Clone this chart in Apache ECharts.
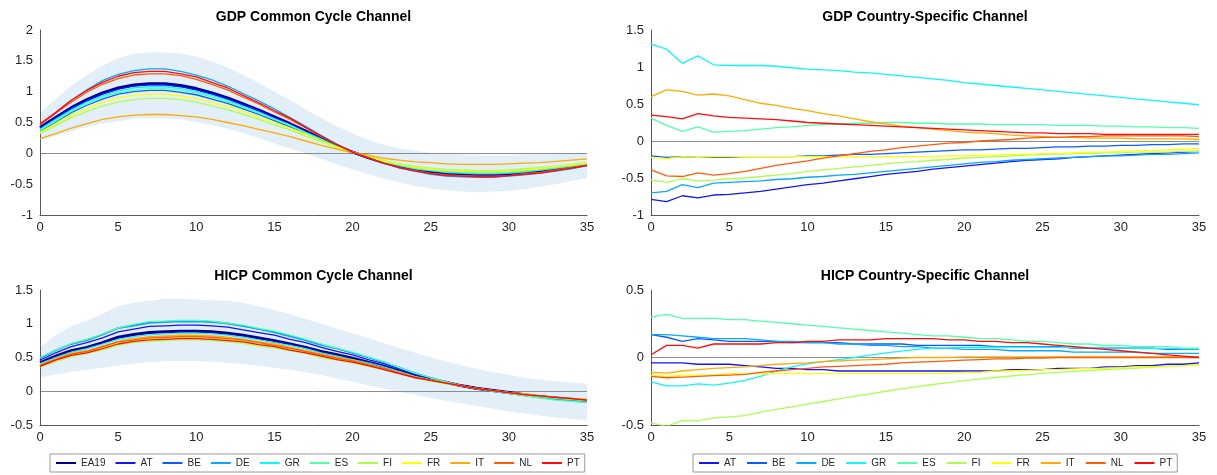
<!DOCTYPE html>
<html><head><meta charset="utf-8">
<script src="https://cdn.jsdelivr.net/npm/echarts@6/dist/echarts.min.js"></script>
<style>html,body{margin:0;padding:0;background:#fff}#c{width:1217px;height:475px}</style>
</head><body><div id="c"></div>
<script>
// ---------- DATA ----------
const horizon = [0,1,2,3,4,5,6,7,8,9,10,11,12,13,14,15,16,17,18,19,20,21,22,23,24,25,26,27,28,29,30,31,32,33,34,35];
const countries = ['AT','BE','DE','GR','ES','FI','FR','IT','NL','PT'];
const legendCommon = ['EA19','AT','BE','DE','GR','ES','FI','FR','IT','NL','PT'];
const titles = ['GDP Common Cycle Channel','GDP Country-Specific Channel','HICP Common Cycle Channel','HICP Country-Specific Channel'];

// GDP common cycle channel
const gdpCC_bandLow  = [.21,.28,.36,.43,.48,.52,.56,.57,.57,.55,.51,.46,.40,.33,.25,.16,.08,0,-.09,-.18,-.26,-.34,-.41,-.47,-.53,-.57,-.60,-.62,-.63,-.62,-.61,-.58,-.54,-.50,-.45,-.40];
const gdpCC_bandHigh = [.65,.88,1.09,1.27,1.42,1.54,1.61,1.64,1.64,1.62,1.57,1.49,1.39,1.27,1.14,1.00,.86,.71,.57,.44,.32,.22,.14,.08,.04,.01,-.01,-.02,-.03,-.03,-.03,-.02,-.02,-.01,-.01,0];
const gdpCC_EA19 = [.42,.58,.74,.87,.98,1.06,1.11,1.13,1.13,1.10,1.05,.98,.90,.80,.70,.59,.48,.36,.24,.12,.02,-.07,-.15,-.21,-.26,-.30,-.33,-.34,-.35,-.35,-.34,-.32,-.29,-.26,-.22,-.18];
const gdpCC_AT = [.41,.57,.73,.85,.96,1.04,1.09,1.11,1.11,1.08,1.03,.96,.88,.79,.69,.58,.47,.35,.24,.12,.02,-.06,-.14,-.21,-.26,-.29,-.32,-.33,-.34,-.34,-.33,-.31,-.28,-.25,-.21,-.18];
const gdpCC_BE = [.36,.51,.66,.78,.88,.96,1.00,1.02,1.02,.99,.95,.88,.81,.72,.63,.53,.43,.33,.22,.11,.02,-.06,-.13,-.20,-.24,-.28,-.30,-.31,-.32,-.32,-.31,-.29,-.27,-.24,-.20,-.17];
const gdpCC_DE = [.46,.66,.86,1.03,1.18,1.28,1.34,1.37,1.37,1.33,1.27,1.19,1.09,.97,.85,.72,.58,.44,.29,.15,.02,-.07,-.16,-.24,-.29,-.34,-.37,-.38,-.39,-.39,-.37,-.35,-.32,-.29,-.25,-.20];
const gdpCC_GR = [.39,.55,.70,.83,.93,1.01,1.06,1.08,1.08,1.05,1.00,.94,.86,.76,.67,.56,.46,.34,.23,.11,.02,-.06,-.14,-.20,-.25,-.28,-.31,-.32,-.33,-.33,-.32,-.30,-.27,-.24,-.21,-.17];
const gdpCC_ES = [.37,.52,.68,.80,.91,.98,1.03,1.05,1.05,1.02,.98,.91,.84,.74,.65,.55,.45,.33,.22,.11,.02,-.06,-.13,-.19,-.24,-.27,-.30,-.31,-.32,-.32,-.31,-.29,-.26,-.23,-.20,-.17];
const gdpCC_FI = [.32,.45,.58,.68,.77,.83,.87,.89,.89,.87,.83,.77,.71,.63,.55,.46,.38,.28,.19,.09,.02,-.05,-.12,-.17,-.21,-.24,-.26,-.27,-.28,-.28,-.27,-.25,-.23,-.21,-.18,-.15];
const gdpCC_FR = [.34,.48,.62,.73,.83,.90,.94,.96,.96,.93,.89,.83,.76,.68,.59,.50,.41,.31,.20,.10,.02,-.06,-.13,-.18,-.23,-.26,-.28,-.29,-.30,-.30,-.29,-.27,-.25,-.22,-.19,-.16];
const gdpCC_IT = [.24,.32,.41,.48,.55,.59,.62,.63,.63,.61,.59,.55,.50,.45,.39,.33,.27,.20,.13,.07,.01,-.03,-.08,-.11,-.14,-.15,-.17,-.18,-.18,-.18,-.17,-.16,-.15,-.13,-.11,-.09];
const gdpCC_NL = [.46,.65,.83,.99,1.12,1.21,1.27,1.29,1.29,1.26,1.20,1.12,1.03,.91,.80,.67,.55,.41,.27,.14,.02,-.07,-.16,-.23,-.28,-.32,-.35,-.36,-.37,-.37,-.36,-.33,-.31,-.27,-.23,-.19];
const gdpCC_PT = [.48,.66,.86,1.02,1.15,1.25,1.31,1.33,1.33,1.29,1.24,1.15,1.06,.94,.82,.69,.57,.42,.28,.14,.02,-.07,-.16,-.23,-.29,-.33,-.36,-.37,-.38,-.38,-.36,-.34,-.32,-.28,-.24,-.20];

// GDP country-specific channel
const gdpCS_AT = [-.79,-.82,-.74,-.77,-.73,-.72,-.70,-.68,-.65,-.62,-.59,-.57,-.54,-.51,-.48,-.45,-.43,-.41,-.38,-.36,-.34,-.32,-.30,-.28,-.26,-.25,-.24,-.22,-.21,-.20,-.19,-.18,-.17,-.16,-.15,-.14];
const gdpCS_BE = [-.20,-.22,-.21,-.22,-.22,-.22,-.21,-.21,-.21,-.21,-.20,-.20,-.19,-.18,-.18,-.17,-.16,-.15,-.14,-.13,-.12,-.12,-.11,-.10,-.10,-.09,-.08,-.08,-.07,-.07,-.06,-.06,-.05,-.05,-.04,-.04];
const gdpCS_DE = [-.70,-.68,-.59,-.63,-.57,-.56,-.55,-.54,-.52,-.51,-.49,-.48,-.46,-.45,-.43,-.41,-.39,-.37,-.35,-.33,-.31,-.29,-.28,-.26,-.25,-.24,-.23,-.22,-.21,-.20,-.20,-.19,-.18,-.18,-.17,-.16];
const gdpCS_GR = [1.31,1.24,1.05,1.15,1.03,1.02,1.02,1.02,1.01,.99,.97,.96,.95,.93,.92,.90,.88,.86,.84,.82,.79,.77,.75,.73,.71,.69,.67,.65,.63,.61,.59,.57,.55,.53,.51,.49];
const gdpCS_ES = [.31,.21,.13,.19,.12,.13,.14,.16,.18,.19,.21,.22,.23,.24,.24,.25,.25,.24,.24,.23,.23,.23,.22,.22,.22,.22,.21,.21,.21,.20,.20,.19,.19,.18,.18,.17];
const gdpCS_FI = [-.53,-.56,-.51,-.54,-.53,-.51,-.50,-.48,-.46,-.44,-.41,-.39,-.37,-.35,-.33,-.31,-.29,-.28,-.26,-.25,-.23,-.22,-.21,-.20,-.19,-.18,-.18,-.17,-.17,-.16,-.16,-.15,-.15,-.15,-.14,-.14];
const gdpCS_FR = [-.22,-.24,-.21,-.22,-.21,-.21,-.21,-.21,-.21,-.21,-.21,-.21,-.21,-.21,-.21,-.21,-.21,-.21,-.21,-.20,-.20,-.19,-.19,-.18,-.18,-.17,-.17,-.16,-.15,-.15,-.14,-.13,-.13,-.12,-.11,-.10];
const gdpCS_IT = [.60,.69,.67,.62,.635,.61,.56,.51,.48,.44,.41,.37,.34,.30,.26,.23,.20,.18,.16,.14,.12,.11,.10,.08,.07,.06,.05,.05,.04,.04,.04,.03,.03,.03,.03,.02];
const gdpCS_NL = [-.39,-.47,-.48,-.43,-.46,-.44,-.41,-.37,-.33,-.30,-.27,-.23,-.20,-.17,-.14,-.12,-.09,-.07,-.05,-.03,-.02,0,.01,.02,.04,.05,.05,.06,.06,.07,.07,.07,.07,.07,.07,.06];
const gdpCS_PT = [.35,.33,.30,.37,.34,.32,.31,.30,.29,.27,.25,.24,.23,.22,.21,.20,.19,.18,.17,.16,.15,.14,.13,.12,.11,.11,.10,.10,.10,.09,.09,.09,.09,.09,.09,.09];

// HICP common cycle channel
const hicpCC_bandLow  = [.20,.25,.29,.32,.35,.38,.41,.43,.45,.45,.45,.44,.42,.40,.38,.35,.32,.28,.24,.19,.14,.09,.04,-.01,-.05,-.10,-.14,-.18,-.22,-.26,-.30,-.33,-.36,-.39,-.41,-.43];
const hicpCC_bandHigh = [.65,.83,.96,1.05,1.15,1.26,1.31,1.34,1.37,1.37,1.36,1.35,1.34,1.31,1.26,1.20,1.14,1.07,1.00,.93,.86,.79,.71,.64,.57,.50,.44,.38,.33,.28,.24,.20,.17,.15,.13,.11];
const hicpCC_EA19 = [.42,.52,.60,.65,.72,.80,.84,.87,.88,.89,.89,.88,.86,.83,.79,.75,.70,.65,.59,.54,.49,.43,.37,.30,.23,.18,.13,.08,.04,.01,-.02,-.05,-.08,-.10,-.12,-.14];
const hicpCC_AT = [.46,.57,.66,.72,.79,.88,.92,.96,.97,.98,.98,.97,.95,.91,.87,.83,.77,.72,.65,.59,.54,.47,.41,.33,.25,.19,.13,.08,.04,.01,-.02,-.05,-.08,-.11,-.13,-.15];
const hicpCC_BE = [.49,.61,.70,.76,.84,.94,.98,1.02,1.03,1.04,1.04,1.03,1.01,.97,.92,.88,.82,.76,.69,.63,.57,.50,.43,.35,.27,.20,.14,.08,.04,0,-.03,-.06,-.09,-.12,-.14,-.16];
const hicpCC_DE = [.49,.60,.70,.75,.84,.93,.97,1.01,1.02,1.03,1.03,1.02,1.00,.96,.92,.87,.81,.75,.68,.63,.57,.50,.43,.35,.27,.20,.14,.08,.04,0,-.03,-.06,-.09,-.12,-.14,-.16];
const hicpCC_GR = [.41,.50,.58,.63,.70,.77,.81,.84,.85,.86,.86,.85,.83,.80,.76,.72,.68,.63,.57,.52,.47,.42,.36,.29,.22,.17,.12,.08,.04,.01,-.02,-.05,-.08,-.10,-.12,-.14];
const hicpCC_ES = [.50,.61,.71,.77,.85,.94,.99,1.03,1.04,1.05,1.05,1.04,1.01,.98,.93,.89,.83,.77,.70,.64,.58,.51,.44,.35,.27,.20,.14,.08,.04,0,-.03,-.07,-.10,-.13,-.15,-.17];
const hicpCC_FI = [.36,.44,.51,.56,.61,.68,.72,.74,.75,.76,.76,.75,.73,.71,.67,.64,.60,.56,.50,.46,.42,.37,.32,.26,.20,.15,.11,.08,.04,.01,-.02,-.05,-.07,-.10,-.12,-.14];
const hicpCC_FR = [.38,.47,.54,.59,.65,.72,.76,.78,.79,.80,.80,.79,.77,.75,.71,.68,.63,.59,.53,.49,.44,.39,.33,.27,.21,.16,.12,.08,.04,.01,-.02,-.04,-.07,-.09,-.11,-.12];
const hicpCC_IT = [.39,.48,.56,.60,.67,.74,.78,.81,.82,.83,.83,.82,.80,.77,.73,.70,.65,.60,.55,.50,.46,.40,.34,.28,.21,.17,.12,.08,.04,.01,-.02,-.05,-.07,-.09,-.11,-.12];
const hicpCC_NL = [.38,.47,.55,.59,.66,.73,.76,.79,.80,.81,.81,.80,.78,.76,.72,.68,.64,.59,.54,.49,.45,.39,.34,.27,.21,.16,.12,.08,.04,.01,-.02,-.05,-.07,-.09,-.11,-.13];
const hicpCC_PT = [.37,.46,.53,.57,.63,.70,.74,.76,.77,.78,.78,.77,.75,.73,.69,.66,.61,.57,.52,.47,.43,.38,.32,.26,.20,.16,.12,.08,.04,.01,-.02,-.05,-.07,-.09,-.11,-.13];

// HICP country-specific channel
const hicpCS_AT = [-.04,-.04,-.04,-.05,-.05,-.05,-.06,-.07,-.08,-.08,-.09,-.09,-.10,-.10,-.10,-.10,-.10,-.10,-.10,-.10,-.10,-.10,-.10,-.09,-.09,-.09,-.08,-.08,-.08,-.07,-.07,-.06,-.06,-.05,-.05,-.04];
const hicpCS_BE = [.17,.15,.12,.14,.13,.12,.12,.12,.12,.11,.11,.11,.11,.10,.10,.10,.10,.09,.09,.09,.09,.09,.08,.08,.08,.08,.08,.07,.07,.07,.07,.07,.07,.06,.06,.06];
const hicpCS_DE = [.17,.17,.16,.15,.14,.14,.14,.13,.12,.12,.11,.11,.10,.10,.09,.09,.08,.08,.07,.07,.06,.06,.06,.05,.05,.05,.05,.04,.04,.04,.04,.04,.03,.03,.03,.03];
const hicpCS_GR = [-.18,-.21,-.21,-.195,-.205,-.19,-.17,-.14,-.10,-.07,-.047,-.03,-.015,0,.017,.035,.047,.06,.07,.072,.075,.076,.077,.077,.077,.076,.075,.074,.073,.072,.07,.068,.066,.065,.064,.063];
const hicpCS_ES = [.30,.32,.29,.29,.29,.28,.28,.27,.26,.25,.24,.23,.22,.21,.20,.19,.18,.17,.16,.16,.15,.14,.14,.13,.12,.12,.11,.10,.10,.09,.09,.08,.08,.08,.07,.07];
const hicpCS_FI = [-.485,-.51,-.465,-.467,-.447,-.44,-.43,-.405,-.385,-.365,-.345,-.326,-.306,-.286,-.27,-.25,-.233,-.216,-.2,-.186,-.172,-.16,-.148,-.137,-.127,-.118,-.11,-.103,-.096,-.09,-.084,-.078,-.072,-.066,-.06,-.055];
const hicpCS_FR = [-.13,-.14,-.13,-.13,-.13,-.12,-.12,-.12,-.12,-.12,-.12,-.12,-.12,-.12,-.12,-.12,-.12,-.12,-.12,-.115,-.11,-.11,-.10,-.10,-.095,-.09,-.09,-.085,-.08,-.08,-.075,-.07,-.07,-.065,-.06,-.06];
const hicpCS_IT = [-.11,-.115,-.10,-.09,-.08,-.075,-.07,-.06,-.05,-.045,-.04,-.03,-.025,-.02,-.015,-.01,-.005,0,0,0,.005,.005,.005,.005,.005,.005,.005,.005,.005,.005,.005,.005,.005,.005,.005,.005];
const hicpCS_NL = [-.14,-.15,-.145,-.14,-.135,-.13,-.125,-.11,-.10,-.09,-.08,-.07,-.065,-.06,-.055,-.05,-.04,-.035,-.03,-.025,-.02,-.015,-.01,-.01,-.005,-.005,0,0,0,0,0,0,0,0,0,0];
const hicpCS_PT = [.02,.09,.09,.07,.10,.10,.10,.10,.11,.11,.12,.12,.13,.13,.13,.14,.14,.14,.14,.13,.13,.12,.12,.11,.11,.10,.09,.08,.07,.06,.05,.04,.03,.02,.01,0];

// ---------- STYLE ----------
const FONT = '"Liberation Sans", Arial, Helvetica, sans-serif';
const colors = {EA19:'#00008f', AT:'#1414ff', BE:'#0a5cff', DE:'#0aa8ff', GR:'#10f4ff', ES:'#52ffaa', FI:'#aaff4f', FR:'#ffff00', IT:'#ffaa00', NL:'#ff5a0a', PT:'#ff0a0a'};
const AXIS_COLOR = '#595959';
const ZERO_COLOR = '#8c8c8c';
const BAND_COLOR = '#e3eff8';

const panels = [
  {grid:{left:40, top:30, width:547, height:185}, y:[-1,2], cx:313.5, ty:10},
  {grid:{left:651, top:30, width:548, height:185}, y:[-1,1.5], cx:925, ty:10},
  {grid:{left:40, top:290, width:547, height:135}, y:[-0.5,1.5], cx:313.5, ty:269},
  {grid:{left:651, top:290, width:548, height:135}, y:[-0.5,0.5], cx:925, ty:269}
];

const pairs = arr => horizon.map((h,i)=>[h, arr[i]]);

const series = [];
function band(idx, low, high) {
  series.push({type:'custom', name:'band'+idx, xAxisIndex:idx, yAxisIndex:idx, silent:true, z:1,
    data:[[horizon[0], high[0]]], encode:{x:0, y:1},
    renderItem:function(params, api){
      const top = horizon.map((h,i)=>api.coord([h, high[i]]));
      const bot = horizon.map((h,i)=>api.coord([h, low[i]])).reverse();
      return {type:'polygon', shape:{points: top.concat(bot)}, style:{fill:BAND_COLOR}, silent:true};
    }});
}
function zero(idx, ref) {
  series.push({type:'line', name:'zero'+idx, xAxisIndex:idx, yAxisIndex:idx, data:pairs(ref),
    symbol:'none', silent:true, z:2, lineStyle:{opacity:0},
    markLine:{silent:true, symbol:['none','none'], label:{show:false},
      lineStyle:{color:ZERO_COLOR, width:1, type:'solid'}, data:[{yAxis:0}]}});
}
function line(idx, name, arr, width) {
  series.push({type:'line', name:name, xAxisIndex:idx, yAxisIndex:idx, data:pairs(arr),
    symbol:'none', showSymbol:false, silent:true, z:10,
    lineStyle:{color:colors[name], width:width||1.3}, itemStyle:{color:colors[name]}});
}

// panel 0
band(0, gdpCC_bandLow, gdpCC_bandHigh);
zero(0, gdpCC_bandLow);
line(0,'EA19',gdpCC_EA19,3);
const gdpCCs = {AT:gdpCC_AT,BE:gdpCC_BE,DE:gdpCC_DE,GR:gdpCC_GR,ES:gdpCC_ES,FI:gdpCC_FI,FR:gdpCC_FR,IT:gdpCC_IT,NL:gdpCC_NL,PT:gdpCC_PT};
countries.forEach(c=>line(0,c,gdpCCs[c]));
// panel 1
zero(1, gdpCS_AT);
const gdpCSs = {AT:gdpCS_AT,BE:gdpCS_BE,DE:gdpCS_DE,GR:gdpCS_GR,ES:gdpCS_ES,FI:gdpCS_FI,FR:gdpCS_FR,IT:gdpCS_IT,NL:gdpCS_NL,PT:gdpCS_PT};
countries.forEach(c=>line(1,c,gdpCSs[c]));
// panel 2
band(2, hicpCC_bandLow, hicpCC_bandHigh);
zero(2, hicpCC_bandLow);
line(2,'EA19',hicpCC_EA19,3);
const hicpCCs = {AT:hicpCC_AT,BE:hicpCC_BE,DE:hicpCC_DE,GR:hicpCC_GR,ES:hicpCC_ES,FI:hicpCC_FI,FR:hicpCC_FR,IT:hicpCC_IT,NL:hicpCC_NL,PT:hicpCC_PT};
countries.forEach(c=>line(2,c,hicpCCs[c]));
// panel 3
zero(3, hicpCS_AT);
const hicpCSs = {AT:hicpCS_AT,BE:hicpCS_BE,DE:hicpCS_DE,GR:hicpCS_GR,ES:hicpCS_ES,FI:hicpCS_FI,FR:hicpCS_FR,IT:hicpCS_IT,NL:hicpCS_NL,PT:hicpCS_PT};
countries.forEach(c=>line(3,c,hicpCSs[c]));

const axisLabel = {color:'#262626', fontSize:13, fontFamily:FONT};
const legendBase = {top:454, itemWidth:20, itemHeight:10, padding:[4,5,4,5],
  borderColor:'#9a9a9a', borderWidth:1, selectedMode:false,
  itemStyle:{opacity:0, borderWidth:0},
  textStyle:{fontSize:10, color:'#262626', fontFamily:FONT}};
const option = {
  animation:false,
  backgroundColor:'#fff',
  grid: panels.map(p=>p.grid),
  xAxis: panels.map((p,i)=>({type:'value', gridIndex:i, min:0, max:35, interval:5, z:5,
    axisLine:{show:true, onZero:false, lineStyle:{color:AXIS_COLOR, width:1}},
    axisTick:{show:false}, splitLine:{show:false},
    axisLabel:Object.assign({margin:6}, axisLabel)})),
  yAxis: panels.map((p,i)=>({type:'value', gridIndex:i, min:p.y[0], max:p.y[1], interval:0.5, z:5,
    axisLine:{show:true, onZero:false, lineStyle:{color:AXIS_COLOR, width:1}},
    axisTick:{show:false}, splitLine:{show:false},
    axisLabel:Object.assign({margin:7}, axisLabel)})),
  legend: [
    Object.assign({left:50, data:legendCommon, itemGap:9}, legendBase),
    Object.assign({left:693, data:countries, itemGap:10}, legendBase)
  ],
  graphic: panels.map((p,i)=>({type:'text', x:p.cx, y:p.ty, silent:true,
    style:{text:titles[i], fill:'#000', font:'bold 14px '+FONT, align:'center', verticalAlign:'top'}})),
  series: series
};
const chart = echarts.init(document.getElementById('c'), null, {renderer:'canvas'});
chart.setOption(option);
</script>
</body></html>
